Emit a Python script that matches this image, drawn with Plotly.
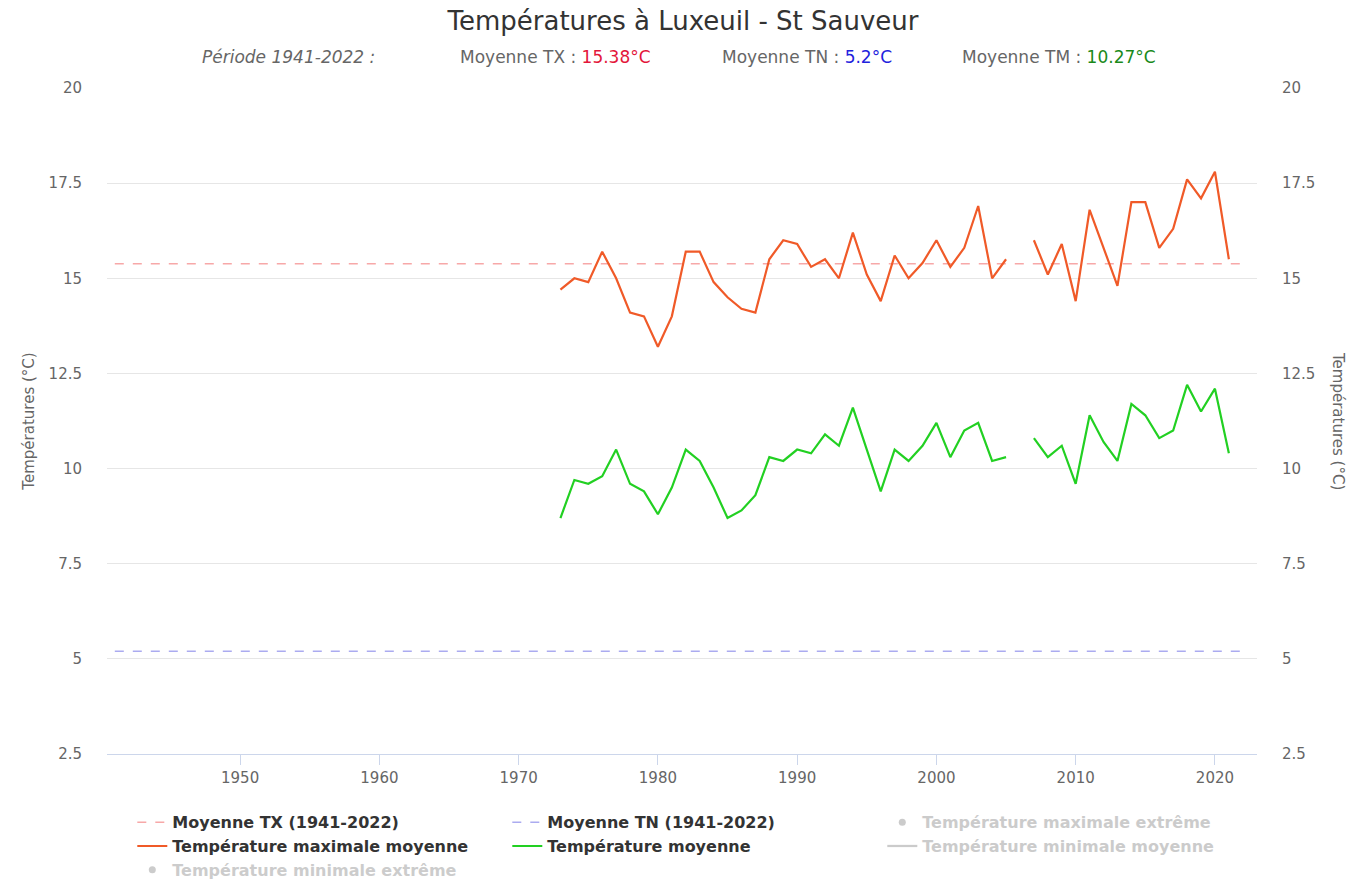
import plotly.graph_objects as go

# Years covered by the station series (2006 is missing)
years = list(range(1973, 2022))

# Mean maximum temperature per year (TX)
tx_moy = [14.7, 15.0, 14.9, 15.7, 15.0, 14.1, 14.0, 13.2, 14.0, 15.7,
          15.7, 14.9, 14.5, 14.2, 14.1, 15.5, 16.0, 15.9, 15.3, 15.5,
          15.0, 16.2, 15.1, 14.4, 15.6, 15.0, 15.4, 16.0, 15.3, 15.8,
          16.9, 15.0, 15.5, None, 16.0, 15.1, 15.9, 14.4, 16.8, 15.8,
          14.8, 17.0, 17.0, 15.8, 16.3, 17.6, 17.1, 17.8, 15.5]

# Mean temperature per year (TM)
tm_moy = [8.7, 9.7, 9.6, 9.8, 10.5, 9.6, 9.4, 8.8, 9.5, 10.5,
          10.2, 9.5, 8.7, 8.9, 9.3, 10.3, 10.2, 10.5, 10.4, 10.9,
          10.6, 11.6, 10.5, 9.4, 10.5, 10.2, 10.6, 11.2, 10.3, 11.0,
          11.2, 10.2, 10.3, None, 10.8, 10.3, 10.6, 9.6, 11.4, 10.7,
          10.2, 11.7, 11.4, 10.8, 11.0, 12.2, 11.5, 12.1, 10.4]

# Period averages 1941-2022
periode = [1941, 2022]
moy_tx = 15.38
moy_tn = 5.2
moy_tm = 10.27

y_ticks = [2.5, 5, 7.5, 10, 12.5, 15, 17.5, 20]
y_labels = ['2.5', '5', '7.5', '10', '12.5', '15', '17.5', '20']
x_ticks = [1950, 1960, 1970, 1980, 1990, 2000, 2010, 2020]

FONT = 'DejaVu Sans'
GREY = '#666666'
HIDDEN = '#999999'  # drawn at half opacity by the legend -> light grey

fig = go.Figure()

fig.add_trace(go.Scatter(x=periode, y=[moy_tx, moy_tx], mode='lines',
                         line=dict(color='#f7a8a8', width=1.5, dash='dash'),
                         name='<b>Moyenne TX (1941-2022)</b>'))
fig.add_trace(go.Scatter(x=periode, y=[moy_tn, moy_tn], mode='lines', yaxis='y2',
                         line=dict(color='#ababf0', width=1.5, dash='dash'),
                         name='<b>Moyenne TN (1941-2022)</b>'))
# hidden series (greyed out in the legend only)
fig.add_trace(go.Scatter(x=[years[0]], y=[None], mode='markers', visible='legendonly',
                         marker=dict(color=HIDDEN, size=7),
                         name="<b><span style='color:#999999'>Température maximale extrême</span></b>"))
fig.add_trace(go.Scatter(x=years, y=tx_moy, mode='lines', connectgaps=False,
                         line=dict(color='#f05a28', width=2.2),
                         name='<b>Température maximale moyenne</b>'))
fig.add_trace(go.Scatter(x=years, y=tm_moy, mode='lines', connectgaps=False,
                         line=dict(color='#22d022', width=2.2),
                         name='<b>Température moyenne</b>'))
fig.add_trace(go.Scatter(x=[years[0]], y=[None], mode='lines', visible='legendonly',
                         line=dict(color=HIDDEN, width=2.2),
                         name="<b><span style='color:#999999'>Température minimale moyenne</span></b>"))
fig.add_trace(go.Scatter(x=[years[0]], y=[None], mode='markers', visible='legendonly',
                         marker=dict(color=HIDDEN, size=7),
                         name="<b><span style='color:#999999'>Température minimale extrême</span></b>"))

# subtitle pieces (plot area spans x 107..1257, y 88..754)
sub_y = 1 + (88 - 57) / 666
fig.add_annotation(x=(200 - 107) / 1150, y=sub_y, xref='paper', yref='paper',
                   xanchor='left', yanchor='middle',
                   text='<i>Période 1941-2022 :</i>', showarrow=False,
                   font=dict(family=FONT, size=17, color=GREY))
fig.add_annotation(x=(458 - 107) / 1150, y=sub_y, xref='paper', yref='paper',
                   xanchor='left', yanchor='middle',
                   text="Moyenne TX : <span style='color:#e3163a'>" + str(moy_tx) + "°C</span>",
                   showarrow=False, font=dict(family=FONT, size=17, color=GREY))
fig.add_annotation(x=(720 - 107) / 1150, y=sub_y, xref='paper', yref='paper',
                   xanchor='left', yanchor='middle',
                   text="Moyenne TN : <span style='color:#2222dd'>" + str(moy_tn) + "°C</span>",
                   showarrow=False, font=dict(family=FONT, size=17, color=GREY))
fig.add_annotation(x=(960 - 107) / 1150, y=sub_y, xref='paper', yref='paper',
                   xanchor='left', yanchor='middle',
                   text="Moyenne TM : <span style='color:#1a8a1a'>" + str(moy_tm) + "°C</span>",
                   showarrow=False, font=dict(family=FONT, size=17, color=GREY))
# right axis title reads top to bottom
fig.add_annotation(x=(1338 - 107) / 1150, y=0.5, xref='paper', yref='paper',
                   xanchor='center', yanchor='middle',
                   text='Températures (°C)', textangle=90, showarrow=False,
                   font=dict(family=FONT, size=15, color=GREY))

fig.update_layout(
    width=1348, height=879,
    margin=dict(l=107, r=91, t=88, b=125, autoexpand=False),
    paper_bgcolor='white', plot_bgcolor='white',
    font=dict(family=FONT, color='#333333'),
    title=dict(text='Températures à Luxeuil - St Sauveur', x=683 / 1348, xanchor='center',
               y=1 - 21 / 879, yanchor='middle',
               font=dict(family=FONT, size=26, color='#333333')),
    xaxis=dict(range=[1940.44, 2023.02], tickvals=x_ticks, showgrid=False, zeroline=False,
               showline=True, linecolor='#ccd6eb', linewidth=1,
               ticks='outside', ticklen=10, tickcolor='#ccd6eb',
               tickfont=dict(family=FONT, size=15, color=GREY)),
    yaxis=dict(range=[2.5, 20], tickvals=y_ticks, ticktext=y_labels, showgrid=True,
               gridcolor='#e6e6e6', zeroline=False, ticks='', ticklabelstandoff=24,
               tickfont=dict(family=FONT, size=15, color=GREY),
               title=dict(text='Températures (°C)', standoff=10,
                          font=dict(family=FONT, size=15, color=GREY))),
    yaxis2=dict(range=[2.5, 20], tickvals=y_ticks, ticktext=y_labels, overlaying='y',
                side='right', showgrid=False, zeroline=False, ticks='', ticklabelstandoff=24,
                tickfont=dict(family=FONT, size=15, color=GREY)),
    legend=dict(orientation='h', x=0.022, y=-0.077, xanchor='left', yanchor='top',
                entrywidth=330, entrywidthmode='pixels', tracegroupgap=0,
                font=dict(family=FONT, size=16, color='#333333'),
                itemwidth=30, bgcolor='rgba(0,0,0,0)'),
)

# drop the default page margin so the figure fills the window exactly
fig.write_html("out.html", config={'displayModeBar': False},
               post_script="document.body.style.margin = '0px';")
